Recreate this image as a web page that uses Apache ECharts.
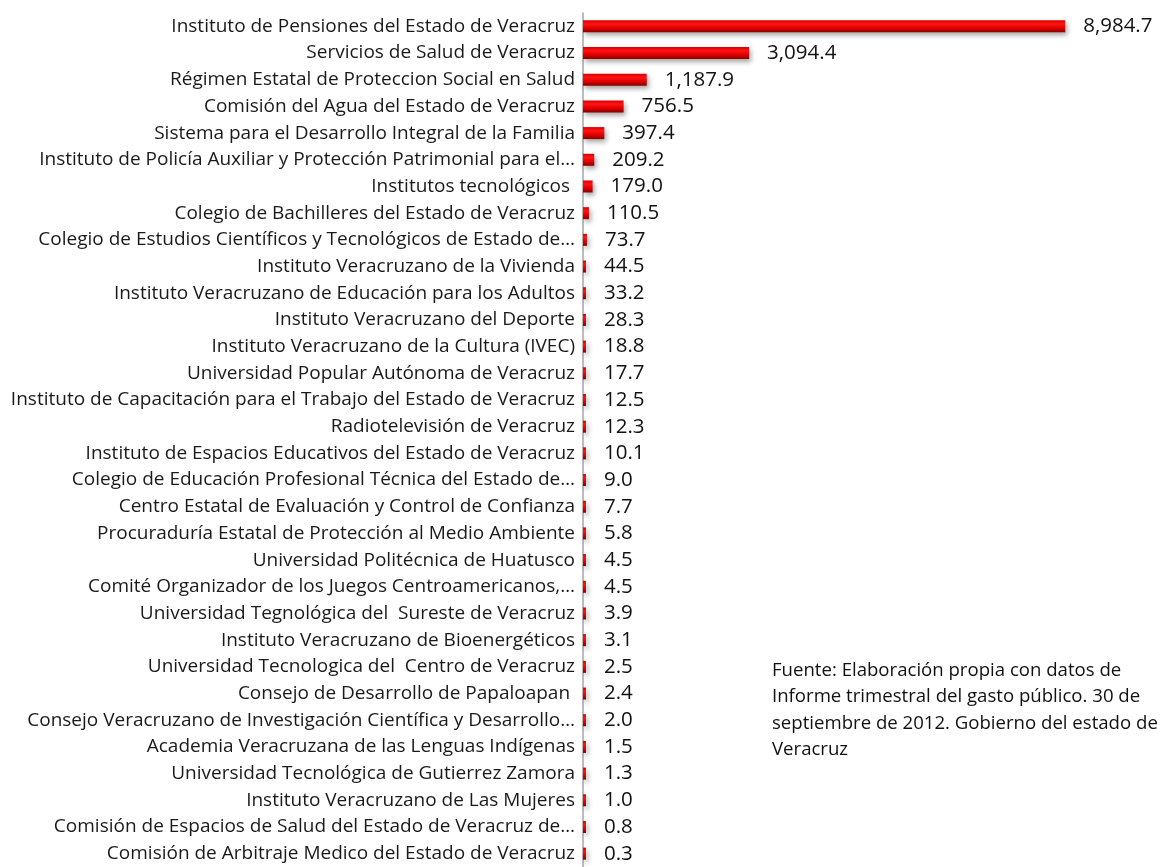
<!DOCTYPE html>
<html>
<head>
<meta charset="utf-8">
<script src="https://cdn.jsdelivr.net/npm/echarts@6/dist/echarts.min.js"></script>
<style>
  html, body { margin: 0; padding: 0; background: #fff; }
  #chart { width: 1160px; height: 867px; }
</style>
</head>
<body>
<div id="chart"></div>
<script>
const categories = [
    'Instituto de Pensiones del Estado de Veracruz',
    'Servicios de Salud de Veracruz',
    'Régimen Estatal de Proteccion Social en Salud',
    'Comisión del Agua del Estado de Veracruz',
    'Sistema para el Desarrollo Integral de la Familia',
    'Instituto de Policía Auxiliar y Protección Patrimonial para el…',
    'Institutos tecnológicos ',
    'Colegio de Bachilleres del Estado de Veracruz',
    'Colegio de Estudios Científicos y Tecnológicos de Estado de…',
    'Instituto Veracruzano de la Vivienda',
    'Instituto Veracruzano de Educación para los Adultos',
    'Instituto Veracruzano del Deporte',
    'Instituto Veracruzano de la Cultura (IVEC)',
    'Universidad Popular Autónoma de Veracruz',
    'Instituto de Capacitación para el Trabajo del Estado de Veracruz',
    'Radiotelevisión de Veracruz',
    'Instituto de Espacios Educativos del Estado de Veracruz',
    'Colegio de Educación Profesional Técnica del Estado de…',
    'Centro Estatal de Evaluación y Control de Confianza',
    'Procuraduría Estatal de Protección al Medio Ambiente',
    'Universidad Politécnica de Huatusco',
    'Comité Organizador de los Juegos Centroamericanos,…',
    'Universidad Tegnológica del  Sureste de Veracruz',
    'Instituto Veracruzano de Bioenergéticos',
    'Universidad Tecnologica del  Centro de Veracruz',
    'Consejo de Desarrollo de Papaloapan ',
    'Consejo Veracruzano de Investigación Científica y Desarrollo…',
    'Academia Veracruzana de las Lenguas Indígenas',
    'Universidad Tecnológica de Gutierrez Zamora',
    'Instituto Veracruzano de Las Mujeres',
    'Comisión de Espacios de Salud del Estado de Veracruz de…',
    'Comisión de Arbitraje Medico del Estado de Veracruz'
];

const values = [
    8984.7, 3094.4, 1187.9, 756.5, 397.4, 209.2, 179.0, 110.5, 73.7, 44.5,
    33.2, 28.3, 18.8, 17.7, 12.5, 12.3, 10.1, 9.0, 7.7, 5.8,
    4.5, 4.5, 3.9, 3.1, 2.5, 2.4, 2.0, 1.5, 1.3, 1.0,
    0.8, 0.3
];

const noteLines = [
    'Fuente: Elaboración propia con datos de',
    'Informe trimestral del gasto público. 30 de',
    'septiembre de 2012. Gobierno del estado de',
    'Veracruz'
];

const chart = echarts.init(document.getElementById('chart'));

const fmt = (v) => v.toLocaleString('en-US', { minimumFractionDigits: 1, maximumFractionDigits: 1 });

// barra con relieve: claro arriba, oscuro abajo
const barColor = new echarts.graphic.LinearGradient(0, 0, 0, 1, [
    { offset: 0, color: '#d80000' },
    { offset: 0.3, color: '#ff1414' },
    { offset: 0.6, color: '#e80000' },
    { offset: 1, color: '#850000' }
]);

chart.setOption({
    animation: false,
    grid: {
        left: 583,
        right: 94,
        top: 13,
        height: 858
    },
    xAxis: {
        type: 'value',
        min: 0,
        max: 9000,
        show: false
    },
    yAxis: {
        type: 'category',
        inverse: true,
        data: categories,
        axisLine: { show: true, lineStyle: { color: '#a6a6a6', width: 1.5 } },
        axisTick: { show: false },
        axisLabel: {
            color: '#1a1a1a',
            fontFamily: 'Open Sans',
            fontSize: 19,
            margin: 8
        },
        splitLine: { show: false }
    },
    series: [
        {
            type: 'bar',
            data: values,
            barWidth: 12,
            barMinHeight: 3,
            itemStyle: {
                color: barColor,
                shadowColor: 'rgba(0,0,0,0.35)',
                shadowBlur: 5,
                shadowOffsetX: 2,
                shadowOffsetY: 3
            },
            label: {
                show: true,
                position: 'right',
                distance: 18,
                color: '#111',
                fontFamily: 'Open Sans',
                fontSize: 20.5,
                formatter: (p) => fmt(p.value)
            }
        }
    ],
    graphic: [
        {
            type: 'text',
            left: 772,
            top: 657,
            style: {
                text: noteLines.join('\n'),
                fill: '#111',
                font: '18.6px "Open Sans"',
                lineHeight: 26.6
            }
        }
    ]
});
</script>
</body>
</html>
